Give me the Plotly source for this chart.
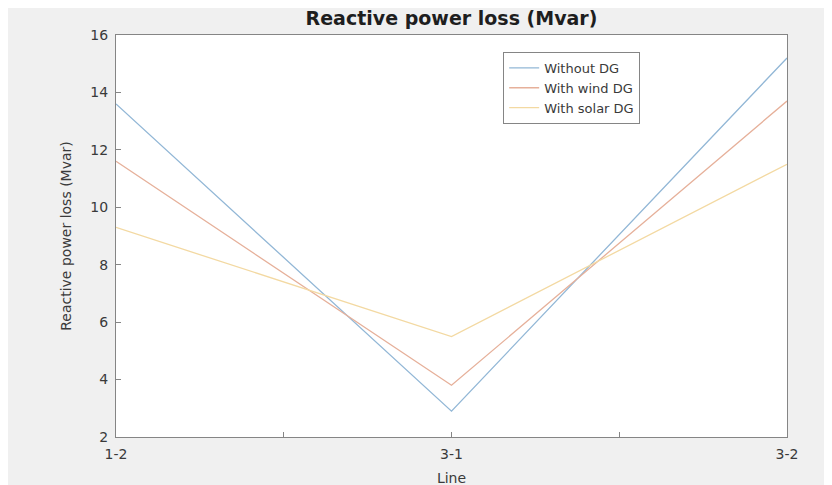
import plotly.graph_objects as go

lines = ["1-2", "3-1", "3-2"]
x_pos = [0, 1, 2]
without_dg = [13.6, 2.9, 15.2]
with_wind = [11.6, 3.8, 13.7]
with_solar = [9.3, 5.5, 11.5]
y_ticks = [2, 4, 6, 8, 10, 12, 14, 16]

font = "DejaVu Sans, Liberation Sans, Arial, sans-serif"
txt = "#3a3a3a"
fig = go.Figure()
for name, vals, col in [("Without DG", without_dg, "#92b7d6"),
                        ("With wind DG", with_wind, "#e6b09a"),
                        ("With solar DG", with_solar, "#f3d9a2")]:
    fig.add_trace(go.Scatter(x=x_pos, y=vals, mode="lines", name=name,
                             line=dict(color=col, width=1.3)))

axis_common = dict(showline=True, linecolor="#858585", linewidth=1.2, mirror=True,
                   ticks="inside", ticklen=5, tickcolor="#858585", showgrid=False,
                   zeroline=False, automargin=False,
                   tickfont=dict(family=font, size=14, color=txt))
fig.update_xaxes(range=[0, 2], tickvals=[0, 0.5, 1, 1.5, 2],
                 ticktext=[lines[0], "", lines[1], "", lines[2]],
                 ticklabelstandoff=4,
                 title=dict(text="Line", font=dict(family=font, size=14, color=txt), standoff=12),
                 **axis_common)
fig.update_yaxes(range=[2, 16], tickvals=y_ticks,
                 ticklabelstandoff=4,
                 title=dict(text="Reactive power loss (Mvar)", font=dict(family=font, size=14, color=txt), standoff=15),
                 **axis_common)
fig.update_layout(
    width=832, height=485,
    margin=dict(l=108, r=53, t=27, b=56),
    paper_bgcolor="#f0f0f0", plot_bgcolor="#ffffff",
    title=dict(text="<b>Reactive power loss (Mvar)</b>", x=0.5, xanchor="center",
               xref="paper", y=0.979, yanchor="middle",
               font=dict(family=font, size=19, color="#1e1e1e")),
    legend=dict(x=0.577, y=0.958, xanchor="left", yanchor="top",
                bgcolor="#ffffff", bordercolor="#858585", borderwidth=1,
                font=dict(family=font, size=13, color=txt),
                tracegroupgap=0, itemwidth=30),
    showlegend=True,
)
fig.write_html("out.html")
